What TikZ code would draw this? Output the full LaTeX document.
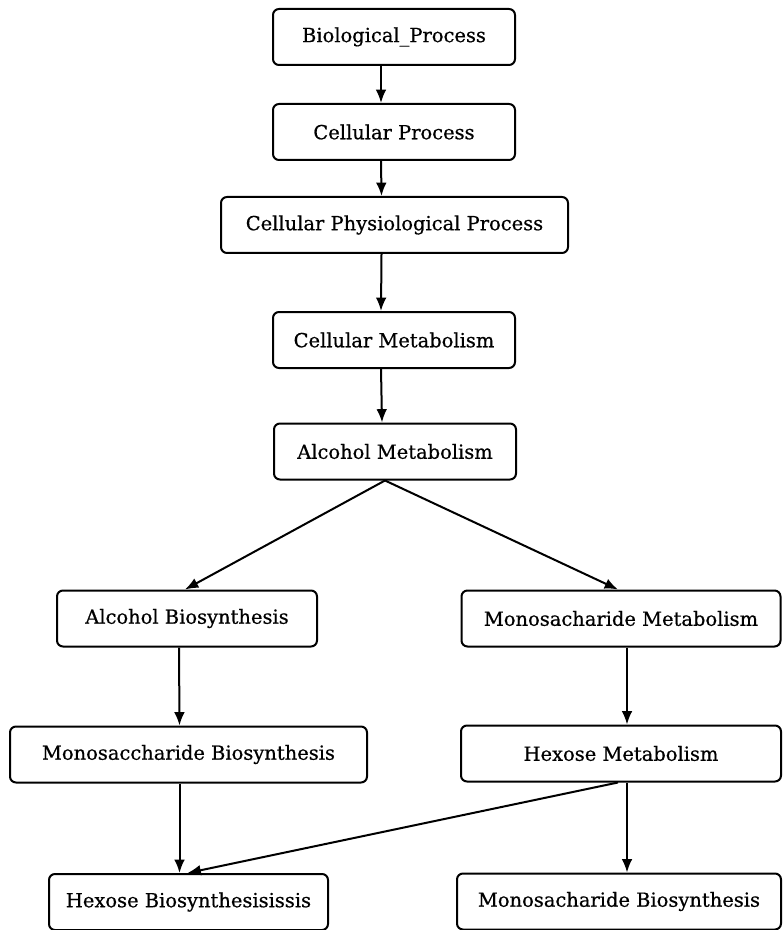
\documentclass[tikz,border=0pt]{standalone}
\usepackage{fontspec}
\newfontfamily\termfont{DejaVu Serif}[FakeBold=0.6]
\usetikzlibrary{arrows.meta}

\tikzset{
  term/.style={draw, rounded corners=4.5pt, line width=1.5pt, inner sep=0pt,
    minimum height=42pt, font=\termfont\fontsize{14.6}{17}\selectfont},
  isa/.style={-{Latex[length=10pt,width=8pt]}, line width=1.5pt},
}

\begin{document}
\begin{tikzpicture}[x=0.75pt, y=-0.75pt]
    \useasboundingbox (0,0) rectangle (782,930);

    \node(bp)  [term, minimum width=181.5pt]  at (394,37)    {Biological\_Process};
    \node(cp)  [term, minimum width=181.5pt]  at (394,132)   {Cellular Process};
    \node(cpp) [term, minimum width=260.25pt] at (394.5,225) {Cellular Physiological Process};
    \node(cm)  [term, minimum width=181.5pt]  at (394,340)   {Cellular Metabolism};
    \node(am)  [term, minimum width=181.5pt]  at (395,451.5) {Alcohol Metabolism};
    \node(ab)  [term, minimum width=195pt]    at (187,618.5) {Alcohol Biosynthesis};
    \node(mm)  [term, minimum width=239.25pt] at (621,618.5) {Monosacharide Metabolism};
    \node(mb)  [term, minimum width=267.75pt] at (188.5,754.5) {Monosaccharide Biosynthesis};
    \node(hm)  [term, minimum width=240pt]    at (621,753.5) {Hexose Metabolism};
    \node(hb)  [term, minimum width=209.25pt] at (188.5,902)   {Hexose Biosynthesisissis};
    \node(msb) [term, minimum width=243pt]    at (619,901.5)   {Monosacharide Biosynthesis};

    \draw [isa] ([shift={(-13,0)}]bp.south)  -- ([shift={(-13,0)}]cp.north);
    \draw [isa] ([shift={(-13,0)}]cp.south)  -- ([shift={(-13,0)}]cpp.north);
    \draw [isa] ([shift={(-13,0)}]cpp.south) -- ([shift={(-13,0)}]cm.north);
    \draw [isa] ([shift={(-13,0)}]cm.south)  -- ([shift={(-13,0)}]am.north);
    \draw [isa] ([shift={(-10,0)}]am.south)  -- ([shift={(-2,0)}]ab.north);
    \draw [isa] ([shift={(-10,0)}]am.south)  -- ([shift={(-3,0)}]mm.north);
    \draw [isa] ([shift={(-8,0)}]ab.south)   -- ([shift={(-9,0)}]mb.north);
    \draw [isa] ([shift={(-9,0)}]mb.south)   -- ([shift={(-9,0)}]hb.north);
    \draw [isa] ([shift={(6,0)}]mm.south)    -- ([shift={(6,0)}]hm.north);
    \draw [isa] ([shift={(6,0)}]hm.south)    -- ([shift={(8,0)}]msb.north);
    \draw [isa] ([shift={(-3,0)}]hm.south)   -- ([shift={(-1,0)}]hb.north);

\end{tikzpicture}
\end{document}
